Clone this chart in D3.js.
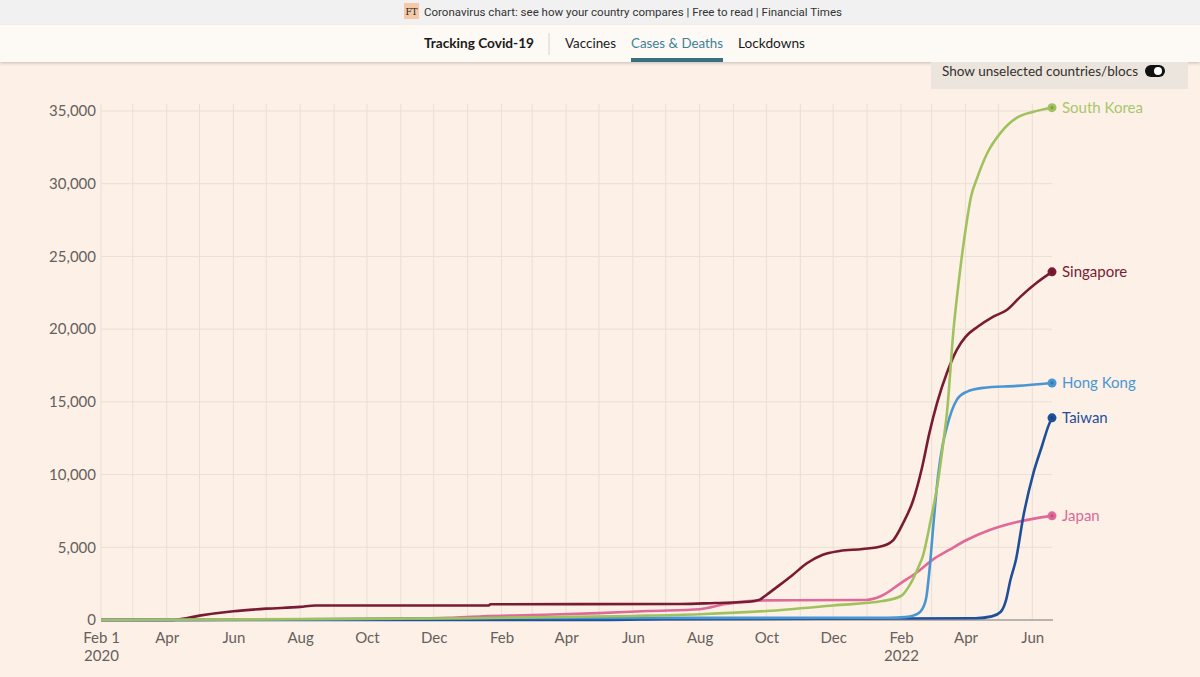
<!DOCTYPE html>
<html><head><meta charset="utf-8">
<script src="https://cdn.jsdelivr.net/npm/d3@7"></script>
<style>
html,body{margin:0;padding:0;background:#fdf1e7;overflow:hidden;}
svg{display:block;}
</style></head>
<body>
<svg id="chart" width="1200" height="677"></svg>
<script>
// ---------- DATA ----------
const seriesNames = ["Japan","Singapore","Taiwan","Hong Kong","South Korea"];
const seriesColors = ["#e0699a","#7a1b34","#1f4f99","#4a96d2","#a0c25e"];
const labelColors  = ["#e0699a","#7a1b34","#1f4f99","#4a96d2","#a8c66c"];

const japanDates  = ["2020-02-01","2020-04-15","2020-08-01","2020-11-01","2020-12-15","2021-01-15","2021-03-01","2021-05-01","2021-06-15","2021-08-01","2021-08-25","2021-09-15","2021-10-01","2021-12-31","2022-01-14","2022-02-01","2022-02-16","2022-03-03","2022-03-17","2022-04-02","2022-04-23","2022-05-18","2022-06-19"];
const japanValues = [0,8,30,80,150,260,340,470,620,740,1100,1300,1350,1380,1650,2540,3300,4200,4820,5500,6190,6740,7160];

const singaporeDates  = ["2020-02-01","2020-04-01","2020-04-10","2020-05-01","2020-06-01","2020-07-01","2020-08-01","2020-08-15","2021-01-20","2021-01-22","2021-07-15","2021-08-15","2021-09-15","2021-09-25","2021-10-01","2021-10-13","2021-10-25","2021-11-07","2021-11-21","2021-12-07","2021-12-28","2022-01-15","2022-01-25","2022-02-03","2022-02-12","2022-02-20","2022-02-27","2022-03-06","2022-03-15","2022-03-24","2022-04-01","2022-04-12","2022-04-26","2022-05-09","2022-05-21","2022-06-05","2022-06-19"];
const singaporeValues = [0,0,20,300,600,780,900,1000,1000,1080,1100,1170,1250,1400,1720,2400,3100,3900,4470,4750,4880,5090,5500,6670,8200,10400,12870,14930,17000,18580,19470,20160,20850,21330,22220,23190,23940];

const taiwanDates  = ["2020-02-01","2020-04-15","2021-05-10","2021-06-30","2022-04-10","2022-04-25","2022-05-03","2022-05-08","2022-05-12","2022-05-17","2022-05-24","2022-06-02","2022-06-10","2022-06-16","2022-06-19"];
const taiwanValues = [0,2,10,60,120,250,550,1370,2750,4130,7200,10100,12000,13400,13900];

const hongKongDates  = ["2020-02-01","2020-04-15","2020-08-01","2020-12-15","2021-02-01","2022-01-20","2022-02-05","2022-02-12","2022-02-19","2022-02-24","2022-02-27","2022-03-03","2022-03-07","2022-03-11","2022-03-15","2022-03-24","2022-04-02","2022-04-17","2022-05-18","2022-06-19"];
const hongKongValues = [0,10,50,110,140,150,200,300,600,1500,3400,6880,10000,12000,13300,15140,15690,15960,16100,16300];

const southKoreaDates  = ["2020-02-01","2020-03-15","2020-12-31","2021-06-01","2021-08-01","2021-10-01","2021-12-01","2022-01-15","2022-02-01","2022-02-10","2022-02-17","2022-02-21","2022-02-28","2022-03-07","2022-03-12","2022-03-15","2022-03-21","2022-03-26","2022-04-01","2022-04-06","2022-04-12","2022-04-21","2022-05-03","2022-05-18","2022-06-02","2022-06-19"];
const southKoreaValues = [0,15,120,280,400,620,1000,1300,1650,2540,3650,4400,6800,9600,12400,14240,19950,23400,26830,29100,30480,32130,33500,34540,34950,35230];

const seriesDates  = [japanDates, singaporeDates, taiwanDates, hongKongDates, southKoreaDates];
const seriesValues = [japanValues, singaporeValues, taiwanValues, hongKongValues, southKoreaValues];

const yTicks = [0,5000,10000,15000,20000,25000,30000,35000];
const xTickDates = ["2020-02-01","2020-04-01","2020-06-01","2020-08-01","2020-10-01","2020-12-01","2021-02-01","2021-04-01","2021-06-01","2021-08-01","2021-10-01","2021-12-01","2022-02-01","2022-04-01","2022-06-01"];
const xTickLabels = ["Feb 1","Apr","Jun","Aug","Oct","Dec","Feb","Apr","Jun","Aug","Oct","Dec","Feb","Apr","Jun"];
const xTickYears  = ["2020","","","","","","","","","","","","2022","",""];

const headerText = "Coronavirus chart: see how your country compares | Free to read | Financial Times";
const navItems = ["Tracking Covid-19","Vaccines","Cases & Deaths","Lockdowns"];
const toggleText = "Show unselected countries/blocs";

// ---------- DRAW ----------
const parse = d3.timeParse("%Y-%m-%d");
const svg = d3.select("#chart");
const font = "Lato, 'Open Sans', sans-serif";

svg.append("rect").attr("width",1200).attr("height",677).attr("fill","#fdf1e7");

// top bar
svg.append("rect").attr("x",0).attr("y",0).attr("width",1200).attr("height",24).attr("fill","#f1f1f1");
svg.append("rect").attr("x",404).attr("y",3).attr("width",15).attr("height",16).attr("fill","#f5c9a8");
svg.append("text").attr("x",411.5).attr("y",15).attr("text-anchor","middle")
  .attr("font-family","'DejaVu Serif', serif").attr("font-size",9).attr("fill","#222").text("FT");
svg.append("text").attr("x",424).attr("y",15.5).attr("font-family","Roboto, sans-serif")
  .attr("font-size",11).attr("fill","#333").attr("textLength",418).attr("lengthAdjust","spacingAndGlyphs").text(headerText);

// nav bar
const defs = svg.append("defs");
const f = defs.append("filter").attr("id","sh").attr("x","-5%").attr("y","-50%").attr("width","110%").attr("height","200%");
f.append("feDropShadow").attr("dx",0).attr("dy",1.5).attr("stdDeviation",1.5).attr("flood-color","#000").attr("flood-opacity",0.18);
svg.append("rect").attr("x",0).attr("y",25).attr("width",1200).attr("height",37).attr("fill","#fdfaf6").attr("filter","url(#sh)");
const navX = [424,565,631,738], navW = [110,51,92,67];
navItems.forEach((t,i)=>{
  svg.append("text").attr("x",navX[i]).attr("y",48).attr("font-family",font)
    .attr("font-size",14).attr("font-weight", i===0?700:400)
    .attr("fill", i===2?"#3f8196":"#1a1a1a")
    .attr("textLength",navW[i]).attr("lengthAdjust","spacingAndGlyphs").text(t);
});
svg.append("line").attr("x1",549).attr("x2",549).attr("y1",33).attr("y2",55).attr("stroke","#d6d2cd").attr("stroke-width",1);
svg.append("rect").attr("x",631).attr("y",58).attr("width",92).attr("height",4).attr("fill","#3a6f7e");

// toggle box
svg.append("rect").attr("x",931).attr("y",62).attr("width",257).attr("height",27).attr("fill","#ece5dd");
svg.append("text").attr("x",942).attr("y",76).attr("font-family",font).attr("font-size",13)
  .attr("fill","#33302e").attr("textLength",196).attr("lengthAdjust","spacingAndGlyphs").text(toggleText);
svg.append("rect").attr("x",1145).attr("y",65).attr("width",20).attr("height",12).attr("rx",6).attr("fill","#111");
svg.append("circle").attr("cx",1158).attr("cy",71).attr("r",4).attr("fill","#fff");

// scales
const x = d3.scaleTime().domain([parse("2020-02-01"), parse("2022-06-19")]).range([101,1052]);
const y = d3.scaleLinear().domain([0,35000]).range([620,111]);

// grid
const months = d3.timeMonth.range(parse("2020-02-01"), parse("2022-06-20"));
svg.append("g").selectAll("line").data(months).join("line")
  .attr("x1",d=>x(d)).attr("x2",d=>x(d)).attr("y1",104).attr("y2",620)
  .attr("stroke","#eadfd5").attr("stroke-width",1);
svg.append("g").selectAll("line").data(yTicks.filter(v=>v>0)).join("line")
  .attr("x1",101).attr("x2",1052).attr("y1",d=>y(d)).attr("y2",d=>y(d))
  .attr("stroke","#eadfd5").attr("stroke-width",1);

// y axis
const yAxis = d3.axisLeft(y).tickValues(yTicks).tickSize(0).tickPadding(5).tickFormat(d3.format(","));
const yg = svg.append("g").attr("transform","translate(101,0)").call(yAxis);
yg.select(".domain").remove();
yg.selectAll("text").attr("font-family",font).attr("font-size",15).attr("fill","#66605c");

// x axis
const xAxis = d3.axisBottom(x).tickValues(xTickDates.map(parse)).tickSize(0).tickPadding(12)
  .tickFormat((d,i)=>xTickLabels[i]);
const xg = svg.append("g").attr("transform","translate(0,620)").call(xAxis);
xg.select(".domain").remove();
xg.selectAll("text").attr("font-family",font).attr("font-size",15).attr("fill","#66605c");
xg.selectAll(".tick").each(function(d,i){
  if (xTickYears[i]) d3.select(this).append("text").attr("y",41).attr("fill","#66605c")
    .attr("font-family",font).attr("font-size",15).attr("text-anchor","middle").text(xTickYears[i]);
});

// baseline
svg.append("line").attr("x1",101).attr("x2",1053).attr("y1",y(0)).attr("y2",y(0)).attr("stroke","#a39d98").attr("stroke-width",1.5);

// lines
const line = d3.line().x(d=>x(d[0])).y(d=>y(d[1])).curve(d3.curveMonotoneX);
seriesNames.forEach((name,i)=>{
  const data = seriesDates[i].map((d,j)=>[parse(d), seriesValues[i][j]]);
  svg.append("path").datum(data).attr("d",line).attr("fill","none")
    .attr("stroke",seriesColors[i]).attr("stroke-width",2.6).attr("stroke-linejoin","round");
});
seriesNames.forEach((name,i)=>{
  const n = seriesDates[i].length-1;
  const ex = x(parse(seriesDates[i][n])), ey = y(seriesValues[i][n]);
  svg.append("circle").attr("cx",ex).attr("cy",ey).attr("r",4.5).attr("fill",seriesColors[i]);
  svg.append("circle").attr("cx",ex).attr("cy",ey).attr("r",1.6).attr("fill",d3.color(seriesColors[i]).darker(0.6));
  svg.append("text").attr("x",ex+10).attr("y",ey+5).attr("font-family",font).attr("font-size",15)
    .attr("fill",labelColors[i]).text(name);
});
</script>
</body></html>
